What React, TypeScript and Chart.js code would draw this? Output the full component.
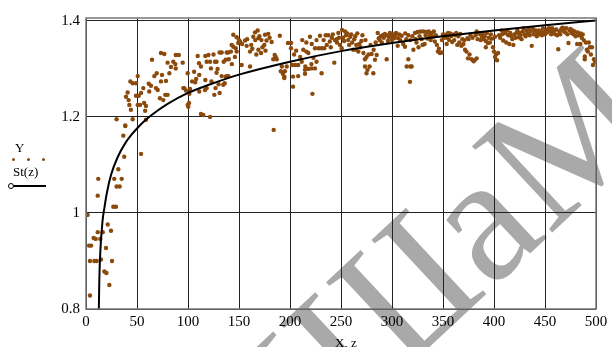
import React, { useEffect, useRef } from "react";
import { Chart, registerables } from "chart.js";

Chart.register(...registerables);

const xTicks = [0, 50, 100, 150, 200, 250, 300, 350, 400, 450, 500];
const yTicks = [0.8, 1.0, 1.2, 1.4];
const yTickLabels = ["0.8", "1", "1.2", "1.4"];

// St(z) curve samples
const curveX = [12.6, 13, 14, 16.3, 18, 20.3, 24.5, 31, 39, 45, 50, 57, 65, 80, 100, 122, 150, 200, 250, 300, 350, 400, 450, 500];
const curveY = [0.8, 0.855, 0.918, 0.985, 1.01, 1.04, 1.079, 1.116, 1.147, 1.164, 1.176, 1.191, 1.205, 1.227, 1.25, 1.268, 1.288, 1.315, 1.337, 1.354, 1.368, 1.38, 1.391, 1.401];

// Y measured points [x, y]
const yPoints: [number, number][] = [
  [1.6, 0.996], [3, 0.932], [5, 0.932], [3.9, 0.9], [3.9, 0.828], [7.5, 0.948], [9.5, 0.946], [8.2, 0.9], [10.5, 0.9],
  [11.5, 1.036], [11.5, 0.96], [12, 1.071], [14, 0.946], [14.7, 0.903], [16.4, 0.96], [18, 0.878], [19.6, 0.927],
  [20, 0.875], [21.3, 0.976], [22.9, 0.85], [24.5, 0.963], [25.5, 0.9], [26.8, 1.013], [29.4, 1.013], [27.7, 1.071],
  [30, 1.055], [33, 1.055], [35, 1.071], [31.7, 1.091], [37.5, 1.117], [36.6, 1.161], [38.5, 1.182], [54, 1.123],
  [30, 1.195], [38.5, 1.181], [45.8, 1.195], [58.8, 1.194], [44, 1.215], [42.5, 1.225], [50.7, 1.225], [53, 1.225],
  [57, 1.229], [58.8, 1.223], [58, 1.213], [40.8, 1.251], [39.2, 1.242], [41.8, 1.235], [49, 1.244], [51.7, 1.244],
  [54, 1.25], [56.2, 1.26], [43.5, 1.274], [45.8, 1.27], [49, 1.27], [50.7, 1.285],
  [61.5, 1.269], [63.7, 1.265], [62, 1.253], [64.7, 1.319], [67, 1.285], [69.3, 1.291], [68.6, 1.26], [70.3, 1.256],
  [72.5, 1.239], [73.5, 1.274], [73.5, 1.333], [74.5, 1.2875], [75.8, 1.235], [76.8, 1.331], [77.7, 1.246], [78.4, 1.275],
  [80, 1.246], [80, 1.313], [81.7, 1.291], [83.3, 1.304], [85.6, 1.315], [87.6, 1.31], [88, 1.329], [88, 1.301],
  [91, 1.329], [94.8, 1.313], [95.4, 1.26], [96.4, 1.26], [98, 1.255], [99.7, 1.291], [99.7, 1.225], [101, 1.229],
  [100.3, 1.221], [101.3, 1.248], [102, 1.258], [104, 1.274], [107, 1.272], [106, 1.294], [108, 1.279], [109.5, 1.327],
  [110.8, 1.312], [111, 1.2875], [111, 1.253], [112.7, 1.305], [112.7, 1.206], [115, 1.204], [116.7, 1.256], [117, 1.327],
  [117, 1.277], [118.3, 1.26], [118.3, 1.315], [120, 1.329], [121.6, 1.2],
  [121.6, 1.315], [122.5, 1.301], [123, 1.274], [125.8, 1.246], [126.5, 1.315], [127, 1.26], [128, 1.315], [128, 1.292],
  [130, 1.268], [131, 1.334], [131, 1.25], [133, 1.334], [133, 1.285], [134.6, 1.267], [135, 1.315], [136, 1.27],
  [137, 1.319], [137, 1.284], [138, 1.334], [138, 1.285], [139.5, 1.334], [139.5, 1.285], [142.1, 1.336], [142.8, 1.35],
  [144.4, 1.371], [144.4, 1.346], [146.8, 1.343], [147.7, 1.366], [147.7, 1.336], [149.3, 1.354], [151, 1.357], [152.6, 1.308],
  [156, 1.359], [157.5, 1.348], [160.8, 1.336], [160.8, 1.305], [164, 1.367], [165.7, 1.376], [168.3, 1.38], [169, 1.364],
  [169, 1.34], [171.6, 1.333], [172, 1.36], [174.8, 1.35], [175.5, 1.371], [177, 1.359], [178.7, 1.373], [183.6, 1.32],
  [184, 1.173], [185, 1.329], [186, 1.325], [187, 1.32], [190, 1.369], [192, 1.305], [191, 1.295], [193, 1.29],
  [194.4, 1.284], [194.4, 1.281], [195, 1.295], [196.8, 1.305], [198, 1.354],
  [125, 1.33], [129, 1.3], [140, 1.32], [143, 1.31], [146, 1.325], [150, 1.36], [153, 1.352], [158, 1.362], [162, 1.35],
  [163, 1.342], [166, 1.36], [167, 1.33], [170, 1.368], [173, 1.345], [176, 1.338], [180, 1.365], [182, 1.356],
  [201, 1.354], [201, 1.343], [202, 1.308], [203, 1.284], [203, 1.263], [205, 1.308], [208, 1.308], [208, 1.285],
  [211.5, 1.315], [213, 1.34], [214.7, 1.298], [214.7, 1.29], [215, 1.305], [216, 1.336], [218, 1.333], [218, 1.3],
  [219.6, 1.367], [221, 1.31], [221, 1.301], [221.3, 1.352], [222, 1.248], [223, 1.323], [224.5, 1.343], [224.5, 1.301],
  [226, 1.315], [228, 1.343], [229.4, 1.369], [231, 1.343], [231, 1.291], [233.6, 1.343], [235, 1.37], [237.5, 1.37],
  [239, 1.357], [241, 1.365], [243.4, 1.313], [244, 1.36], [245.8, 1.362], [247.4, 1.375], [249, 1.35],
  [204, 1.33], [206, 1.338], [210, 1.325], [212, 1.36], [216, 1.355], [226, 1.36], [233, 1.36], [236, 1.35],
  [240, 1.345], [242, 1.372], [246, 1.355], [248, 1.365],
  [250.7, 1.343], [251, 1.381], [252, 1.365], [254, 1.378], [255, 1.37], [257, 1.36], [259, 1.367], [261, 1.355],
  [263, 1.362], [265, 1.35], [265, 1.34], [267, 1.336], [268, 1.352], [270, 1.358], [272, 1.333], [273.5, 1.32],
  [273.5, 1.305], [275, 1.325], [275, 1.291], [276, 1.298], [277, 1.33], [278, 1.305], [280, 1.331], [281.7, 1.291],
  [283.3, 1.319], [285, 1.329], [287, 1.364], [289, 1.368], [291, 1.37], [293, 1.373], [294.8, 1.32], [295, 1.37],
  [297, 1.366], [299, 1.368], [301, 1.372], [303, 1.37], [305.6, 1.348], [306, 1.364], [309.5, 1.369],
  [253, 1.358], [256, 1.374], [258, 1.35], [260, 1.372], [262, 1.34], [264, 1.368], [266, 1.374], [269, 1.345],
  [271, 1.37], [274, 1.36], [279, 1.35], [282, 1.34], [284, 1.355], [286, 1.375], [288, 1.36], [290, 1.355],
  [292, 1.365], [296, 1.358], [298, 1.375], [300, 1.36], [302, 1.364], [304, 1.375], [307, 1.372], [308, 1.36],
  [311, 1.352], [312.7, 1.346], [313, 1.374], [314.4, 1.305], [316, 1.32], [317.6, 1.273], [318, 1.305], [319.3, 1.305],
  [321, 1.34], [322.5, 1.375], [324, 1.355], [325, 1.377], [326, 1.345], [328, 1.378], [330, 1.35], [331, 1.378],
  [332, 1.352], [334, 1.377], [336, 1.378], [339, 1.375], [342, 1.357], [344, 1.35], [345, 1.336], [346, 1.342],
  [347, 1.333], [348.7, 1.334], [352, 1.371], [353.6, 1.352], [355, 1.375], [357, 1.374], [359, 1.356], [360, 1.372],
  [362, 1.37], [364, 1.35], [366, 1.355], [368, 1.348], [371, 1.36], [371.6, 1.34], [373, 1.336], [374, 1.364],
  [374.5, 1.322], [375, 1.362], [376, 1.33], [378, 1.32], [380, 1.316], [381, 1.318], [383, 1.322], [383, 1.378],
  [386, 1.373], [388, 1.368], [390, 1.362], [392, 1.345], [392, 1.358], [394, 1.354], [396, 1.355], [398, 1.363],
  [399, 1.345], [400, 1.336], [401, 1.367], [401, 1.325], [402, 1.33], [403, 1.318], [404, 1.333],
  [314, 1.362], [316, 1.37], [318, 1.36], [320, 1.368], [323, 1.362], [327, 1.368], [329, 1.362], [333, 1.37],
  [335, 1.363], [337, 1.37], [338, 1.36], [340, 1.367], [341, 1.378], [343, 1.37], [349, 1.36], [350, 1.372],
  [351, 1.365], [354, 1.365], [356, 1.36], [358, 1.368], [361, 1.36], [363, 1.375], [365, 1.368], [367, 1.373],
  [369, 1.362], [370, 1.352], [377, 1.37], [379, 1.365], [382, 1.37], [384, 1.362], [385, 1.375], [387, 1.36],
  [389, 1.375], [391, 1.368], [393, 1.375], [395, 1.365], [397, 1.372],
  [407.5, 1.38], [409, 1.359], [410, 1.378], [411, 1.374], [412, 1.355], [414, 1.37], [415, 1.352], [417, 1.368],
  [419, 1.35], [420, 1.372], [422, 1.375], [424, 1.366], [426, 1.37], [428, 1.378], [430, 1.372], [432, 1.38],
  [434, 1.383], [437, 1.348], [438, 1.384], [440, 1.378], [445, 1.372], [447, 1.37], [449, 1.376], [451, 1.38],
  [453, 1.383], [455, 1.379], [457, 1.385], [459, 1.38], [461, 1.382], [463, 1.341], [464, 1.378], [466, 1.383],
  [468, 1.379], [470, 1.376], [473, 1.354], [474, 1.38], [476, 1.375], [478, 1.372], [480, 1.368], [481.5, 1.352],
  [483, 1.37], [484.7, 1.352], [486, 1.365], [488, 1.36], [489, 1.326], [489, 1.32], [490, 1.355], [491, 1.34],
  [492, 1.336], [494, 1.345], [495, 1.33], [496, 1.345], [497, 1.308], [498, 1.32],
  [405, 1.37], [406, 1.365], [408, 1.372], [413, 1.38], [416, 1.375], [418, 1.362], [421, 1.365], [423, 1.38],
  [425, 1.375], [427, 1.362], [429, 1.385], [431, 1.368], [433, 1.374], [435, 1.37], [436, 1.378], [439, 1.372],
  [441, 1.38], [442, 1.368], [443, 1.375], [444, 1.38], [446, 1.378], [448, 1.384], [450, 1.372], [452, 1.376],
  [454, 1.385], [456, 1.372], [458, 1.376], [460, 1.372], [462, 1.37], [465, 1.372], [467, 1.386], [469, 1.384],
  [471, 1.385], [472, 1.372], [475, 1.383], [477, 1.38], [479, 1.378], [482, 1.376], [485, 1.374], [487, 1.372],
  [493, 1.355], [499, 1.315],
];

const POINT_COLOR = "#8b4a0c";
const SERIF = '"Liberation Serif", "DejaVu Serif", serif';

const framePlugin = {
  id: "frame",
  afterDraw(chart: any) {
    const { ctx, chartArea } = chart;
    ctx.save();
    ctx.strokeStyle = "#777";
    ctx.lineWidth = 1.5;
    ctx.strokeRect(chartArea.left, chartArea.top, chartArea.right - chartArea.left, chartArea.bottom - chartArea.top);
    ctx.restore();
  },
};

export default function App() {
  const ref = useRef<HTMLCanvasElement>(null);
  useEffect(() => {
    const chart = new Chart(ref.current as HTMLCanvasElement, {
      type: "scatter",
      data: {
        datasets: [
          {
            label: "St(z)",
            data: curveX.map((x, i) => ({ x, y: curveY[i] })),
            showLine: true,
            borderColor: "#000",
            borderWidth: 2,
            pointRadius: 0,
            cubicInterpolationMode: "monotone",
            order: 0,
          } as any,
          {
            label: "Y",
            data: yPoints.map(([x, y]) => ({ x, y })),
            backgroundColor: POINT_COLOR,
            borderWidth: 0,
            pointRadius: 2.2,
            order: 1,
          },
        ],
      },
      options: {
        animation: false,
        responsive: false,
        maintainAspectRatio: false,
        layout: { padding: { top: 18, right: 16, left: 0, bottom: 0 } },
        plugins: { legend: { display: false }, tooltip: { enabled: false } },
        scales: {
          x: {
            type: "linear",
            min: 0,
            max: 500,
            afterBuildTicks: (s: any) => {
              s.ticks = xTicks.map((v) => ({ value: v }));
            },
            afterFit: (s: any) => {
              s.height = 38;
            },
            grid: { color: "#222", lineWidth: 1, drawTicks: false },
            border: { display: false },
            ticks: {
              padding: 4,
              color: "#000",
              maxRotation: 0,
              autoSkip: false,
              font: { family: SERIF, size: 15 },
              callback: (v: any) => String(v),
            },
          },
          y: {
            type: "linear",
            min: 0.8,
            max: 1.406,
            afterBuildTicks: (s: any) => {
              s.ticks = yTicks.map((v) => ({ value: v }));
            },
            afterFit: (s: any) => {
              s.width = 86;
            },
            grid: { color: "#222", lineWidth: 1, drawTicks: false },
            border: { display: false },
            ticks: {
              padding: 6,
              color: "#000",
              autoSkip: false,
              font: { family: SERIF, size: 15 },
              callback: (v: any) => {
                const i = yTicks.findIndex((t) => Math.abs(t - v) < 1e-9);
                return i >= 0 ? yTickLabels[i] : "";
              },
            },
          },
        },
      },
      plugins: [framePlugin],
    });
    return () => chart.destroy();
  }, []);

  return (
    <div style={{ position: "absolute", left: 0, top: 0, width: 612, height: 347, overflow: "hidden", background: "#fff" }}>
      <div
        style={{
          position: "absolute",
          left: 245,
          top: 380,
          fontFamily: SERIF,
          fontSize: 180,
          color: "#a9a9a9",
          whiteSpace: "nowrap",
          transform: "rotate(-43deg)",
          transformOrigin: "0 100%",
          lineHeight: 1,
        }}
      >
        ШШаМ
      </div>
      <canvas ref={ref} width={612} height={347} style={{ position: "absolute", left: 0, top: 0, width: 612, height: 347 }} />
      <div style={{ position: "absolute", left: 15, top: 140, fontFamily: SERIF, fontSize: 13, color: "#000" }}>Y</div>
      <div style={{ position: "absolute", left: 12, top: 158, width: 3, height: 3, borderRadius: 2, background: POINT_COLOR }} />
      <div style={{ position: "absolute", left: 27, top: 158, width: 3, height: 3, borderRadius: 2, background: POINT_COLOR }} />
      <div style={{ position: "absolute", left: 42, top: 158, width: 3, height: 3, borderRadius: 2, background: POINT_COLOR }} />
      <div style={{ position: "absolute", left: 13, top: 164, fontFamily: SERIF, fontSize: 13, color: "#000" }}>St(z)</div>
      <div style={{ position: "absolute", left: 12, top: 185, width: 34, height: 2, background: "#000" }} />
      <div style={{ position: "absolute", left: 8, top: 183, width: 4, height: 4, borderRadius: 3, border: "1px solid #000", background: "#fff" }} />
      <div style={{ position: "absolute", left: 335, top: 335, fontFamily: SERIF, fontSize: 13, color: "#000" }}>X, z</div>
    </div>
  );
}
